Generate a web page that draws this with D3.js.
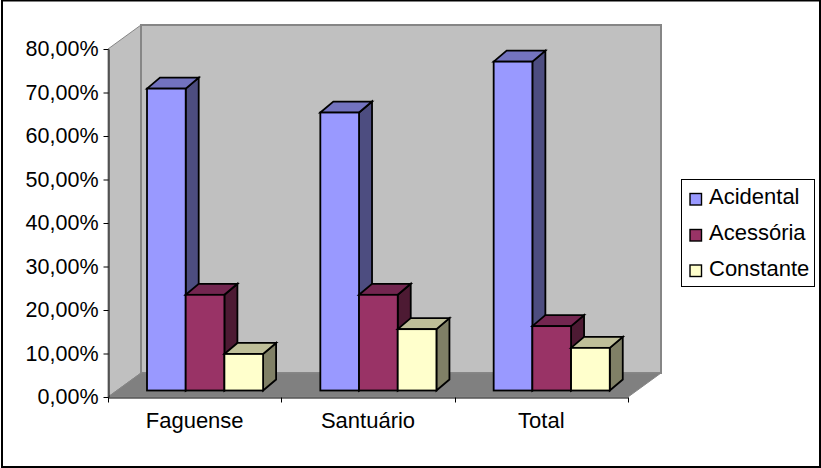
<!DOCTYPE html>
<html><head><meta charset="utf-8">
<script src="https://cdn.jsdelivr.net/npm/d3@7/dist/d3.min.js"></script>
<style>html,body{margin:0;background:#fff}svg{display:block}text{font-family:"Liberation Sans",Arial,sans-serif;fill:#000}</style>
</head><body><svg id="c" width="821" height="468"></svg>
<script>
const categories = ["Faguense", "Santuário", "Total"];
const seriesNames = ["Acidental", "Acessória", "Constante"];
const acidental = [69.4, 63.9, 75.6];
const acessoria = [22, 22, 14.8];
const constante = [8.4, 14.1, 9.8];
const tickValues = [0, 10, 20, 30, 40, 50, 60, 70, 80];
const tickLabels = ["0,00%", "10,00%", "20,00%", "30,00%", "40,00%", "50,00%", "60,00%", "70,00%", "80,00%"];
const faceColors = ["#9999ff", "#993366", "#ffffcc"];
const topColors = ["#7373bf", "#732650", "#bfbf99"];
const sideColors = ["#4d4d80", "#4d1a33", "#808066"];

const svg = d3.select("#c");
const series = [acidental, acessoria, constante];
const tickFontSize = "21.5px", labelFontSize = "22px";

// Plot frame: the front plane of the box plus its receding depth
const plotLeft = 108, plotRight = 628, plotBottom = 397, plotTop = 49;
const wallDx = 33, wallDy = -24;
const barDx = 13, barDy = -11;
const y = d3.scaleLinear().domain([0, 80]).range([plotBottom, plotTop]);
const x = d3.scaleBand().domain(categories).range([plotLeft, plotRight]);
const barBase = 390.5, barInset = 39;
const barWidth = 38.7;
const hScale = v => y(0) - y(v);
const poly = pts => pts.map(p => p.join(",")).join(" ");

// Chart area outline
svg.append("rect").attr("x", 2).attr("y", 0.5).attr("width", 818).attr("height", 466.5)
  .attr("fill", "#fff").attr("stroke", "#000").attr("stroke-width", 2);

// Walls and floor
const wallStroke = "#868686";
svg.append("polygon").attr("points", poly([[plotLeft, plotBottom], [plotLeft, plotTop], [plotLeft + wallDx, plotTop + wallDy], [plotLeft + wallDx, plotBottom + wallDy]]))
  .attr("fill", "#c0c0c0").attr("stroke", wallStroke);
svg.append("polygon").attr("points", poly([[plotLeft + wallDx, plotTop + wallDy], [plotRight + wallDx, plotTop + wallDy], [plotRight + wallDx, plotBottom + wallDy], [plotLeft + wallDx, plotBottom + wallDy]]))
  .attr("fill", "#c0c0c0").attr("stroke", wallStroke).attr("stroke-width", 2);
svg.append("polygon").attr("points", poly([[plotLeft, plotBottom], [plotLeft + wallDx, plotBottom + wallDy], [plotRight + wallDx, plotBottom + wallDy], [plotRight, plotBottom]]))
  .attr("fill", "#808080").attr("stroke", wallStroke);

// Bars, each one a front face, a top and a right side
categories.forEach((cat, c) => {
  series.forEach((vals, s) => {
    const x0 = x(cat) + barInset + s * barWidth, x1 = x0 + barWidth;
    const yT = barBase - hScale(vals[c]);
    const g = svg.append("g").attr("stroke", "#000").attr("stroke-width", 1.8).attr("stroke-linejoin", "miter");
    g.append("polygon").attr("points", poly([[x1, barBase], [x1 + barDx, barBase + barDy], [x1 + barDx, yT + barDy], [x1, yT]])).attr("fill", sideColors[s]);
    g.append("polygon").attr("points", poly([[x0, yT], [x0 + barDx, yT + barDy], [x1 + barDx, yT + barDy], [x1, yT]])).attr("fill", topColors[s]);
    g.append("rect").attr("x", x0).attr("y", yT).attr("width", barWidth).attr("height", barBase - yT).attr("fill", faceColors[s]);
  });
});

// Axes
const yAxis = d3.axisLeft(y).tickValues(tickValues).tickFormat((d, i) => tickLabels[i]).tickSize(5).tickSizeOuter(0).tickPadding(5);
const yg = svg.append("g").attr("transform", `translate(${plotLeft + 0.5},0)`).call(yAxis);
const xAxis = d3.axisBottom(x).tickSize(0).tickPadding(15);
const xg = svg.append("g").attr("transform", `translate(0,${plotBottom + 0.5})`).call(xAxis);
xg.selectAll(".xb").data(d3.range(categories.length + 1)).enter().append("line").attr("class", "xb")
  .attr("x1", i => Math.round(plotLeft + i * x.step()) + 0.5).attr("x2", i => Math.round(plotLeft + i * x.step()) + 0.5)
  .attr("y1", 0).attr("y2", 5).attr("stroke", "#000");
yg.selectAll("text").style("font-size", tickFontSize);
xg.selectAll("text").style("font-size", labelFontSize);
[yg, xg].forEach(g => {
  g.selectAll("text").style("font-family", '"Liberation Sans",Arial,sans-serif').attr("fill", "#000");
  g.selectAll("path,line").attr("stroke", "#000");
});

// Legend
const legendSwatchY = [199, 235, 270.5];
const legendTextY = [204, 240, 276];
svg.append("rect").attr("x", 681.5).attr("y", 179.5).attr("width", 133).attr("height", 107).attr("fill", "#fff").attr("stroke", "#000");
seriesNames.forEach((name, i) => {
  svg.append("rect").attr("x", 690).attr("y", legendSwatchY[i] - 5.5).attr("width", 11.5).attr("height", 11.5).attr("fill", faceColors[i]).attr("stroke", "#000").attr("stroke-width", 1.4);
  svg.append("text").attr("x", 709).attr("y", legendTextY[i]).style("font-size", labelFontSize).text(name);
});
</script></body></html>
